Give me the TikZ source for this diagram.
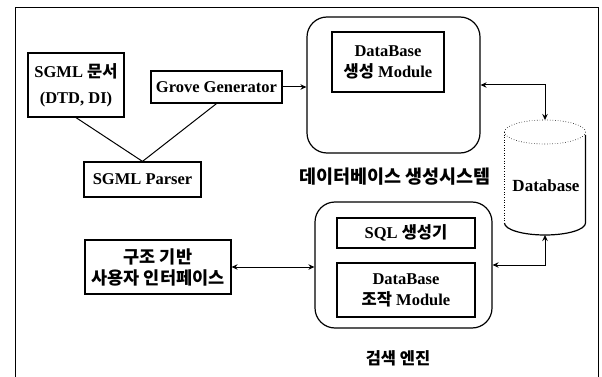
\documentclass[tikz,border=0pt]{standalone}
\usepackage{fontspec}
\setmainfont{Liberation Serif}
\newfontfamily\kr{Noto Sans CJK KR}
\usetikzlibrary{arrows.meta,calc}
\tikzset{
  box/.style={draw, line width=1.2pt, inner sep=0pt, align=center, font=\fontsize{16.5}{21}\selectfont\bfseries},
  rbox/.style={draw, line width=1.2pt, rounded corners=20pt, inner sep=0pt},
  krlabel/.style={font=\fontsize{18.5}{22}\selectfont\kr\bfseries, inner sep=0pt},
  conn/.style={line width=1pt},
  tip/.style={-{Stealth[length=6pt,width=5.5pt]}},
  tips/.style={{Stealth[length=6pt,width=5.5pt]}-{Stealth[length=6pt,width=5.5pt]}}
}
\begin{document}
\begin{tikzpicture}[x=1pt,y=-1pt]
\useasboundingbox (0,0) rectangle (602,377);
% outer frame
\draw[line width=1pt] (15,377) -- (15,8) -- (598,8) -- (598,377);

% nodes
\node[box, minimum width=96pt, minimum height=64pt, font=\fontsize{16.5}{26}\selectfont\bfseries] (sgml) at (76,85) {SGML {\kr 문서}\\(DTD, DI)};
\node[box, minimum width=131pt, minimum height=32pt] (grove) at (216.5,87) {Grove Generator};
\node[box, minimum width=117pt, minimum height=35pt] (parser) at (142.5,179.5) {SGML Parser};

\node[rbox, minimum width=173pt, minimum height=136pt] (dbgen) at (393.5,85) {};
\node[box, line width=1.6pt, minimum width=112pt, minimum height=60pt] (dbmod) at (388,62) {DataBase\\{\kr 생성} Module};
\node[krlabel] (lab1) at (395,177) {데이터베이스 생성시스템};

\node[box, minimum width=146pt, minimum height=54pt, font=\fontsize{17.5}{21}\selectfont\kr\bfseries] (ui) at (158,267) {구조 기반\\사용자 인터페이스};

\node[rbox, minimum width=177pt, minimum height=126pt] (engine) at (403.5,265) {};
\node[box, minimum width=138pt, minimum height=30pt] (sql) at (406,233) {SQL {\kr 생성기}};
\node[box, minimum width=138pt, minimum height=54pt] (dbop) at (406,290) {DataBase\\{\kr 조작} Module};
\node[krlabel, font=\fontsize{16.5}{20}\selectfont\kr\bfseries] (lab2) at (398,358) {검색 엔진};

% cylinder
\coordinate (cyltop) at (545,120);
\coordinate (cylbot) at (545,235);
\draw[line width=0.6pt, dotted] (545,132) ellipse [x radius=40.5, y radius=12];
\draw[line width=0.6pt, dotted] (504.5,132) -- (504.5,223);
\draw[line width=1.2pt] (585.5,135) -- (585.5,223) arc[start angle=0, end angle=-180, x radius=40.5, y radius=-12];
\node[font=\fontsize{17}{20}\selectfont\bfseries, inner sep=0pt] (db) at (546,186) {Database};

% connectors
\draw[conn] (sgml.south) -- (parser.north);
\draw[conn] (grove.south) -- (parser.north);
\draw[conn, tip] (grove.east) -- (grove.east -| dbgen.west);
\draw[conn, tips] (dbgen.east) -| (cyltop);
\draw[conn, tips] (ui.east) -- (ui.east -| engine.west);
\draw[conn, tips] (engine.east) -| (cylbot);
\end{tikzpicture}
\end{document}
